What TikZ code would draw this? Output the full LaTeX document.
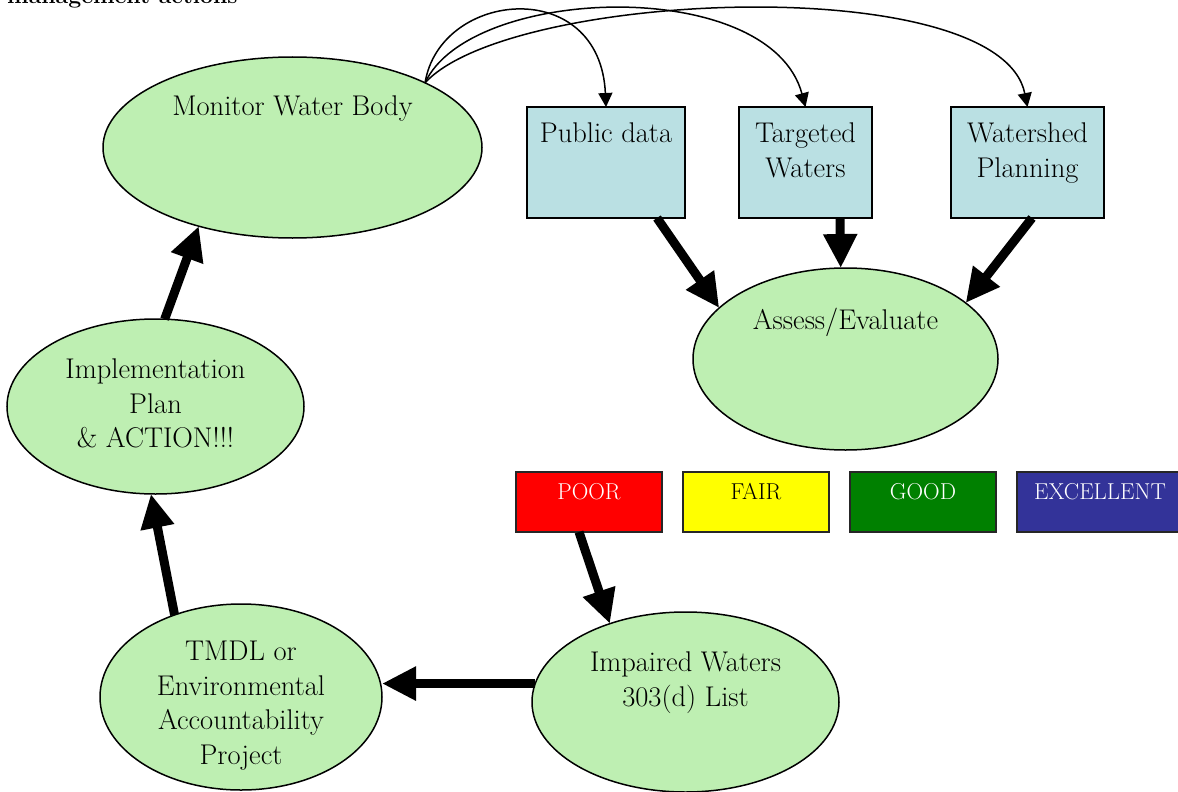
\documentclass[tikz,border=0pt]{standalone}
\usetikzlibrary{shapes.geometric,arrows.meta,calc}
\definecolor{ellgreen}{RGB}{190,239,178}
\definecolor{boxblue}{RGB}{186,224,227}
\definecolor{poorred}{RGB}{255,0,0}
\definecolor{fairyellow}{RGB}{255,255,0}
\definecolor{goodgreen}{RGB}{0,128,0}
\definecolor{excblue}{RGB}{51,51,153}
\begin{document}
\begin{tikzpicture}[x=1pt,y=-1pt,
  ell/.style={ellipse,draw=black,line width=1.5pt,fill=ellgreen,inner sep=0pt,outer sep=0pt},
  bluebox/.style={rectangle,draw=black,line width=2pt,fill=boxblue,inner sep=0pt,outer sep=0pt,minimum height=111pt},
  ratebox/.style={rectangle,draw=black!85,line width=1.8pt,inner sep=0pt,outer sep=0pt,minimum width=146pt,minimum height=60pt},
  lbl/.style={font=\fontsize{28.5}{34.5}\selectfont,align=center,inner sep=0pt,anchor=north},
  ratelbl/.style={font=\fontsize{23}{26}\selectfont,inner sep=0pt,anchor=base},
  bigarrow/.style={line width=9pt,-{Triangle[length=34pt,width=32pt]}},
  smallarrow/.style={line width=1.5pt,-{Triangle[length=14pt,width=14pt]}},
]
\useasboundingbox (0,0) rectangle (1178,792);
\clip (0,0) rectangle (1178,792);

% title (cut off at the top, as in the reference)
\node[font=\fontsize{23}{27}\selectfont\bfseries,anchor=base west,inner sep=0pt] (title) at (7,3.5) {management actions};

% ellipses
\node[ell,minimum width=379pt,minimum height=181pt] (mon) at (292.5,147.5) {};
\node[ell,minimum width=305pt,minimum height=182pt] (assess) at (845.5,359) {};
\node[ell,minimum width=297pt,minimum height=175pt] (impl) at (155.5,406.5) {};
\node[ell,minimum width=282pt,minimum height=186pt] (tmdl) at (241,697) {};
\node[ell,minimum width=307pt,minimum height=180pt] (imp) at (685.5,702) {};

% blue boxes
\node[bluebox,minimum width=158pt] (pub) at (606,162.5) {};
\node[bluebox,minimum width=133pt] (tgt) at (805.5,162.5) {};
\node[bluebox,minimum width=153pt] (ws) at (1027.5,162.5) {};

% rating boxes
\node[ratebox,fill=poorred] (poor) at (589,502) {};
\node[ratebox,fill=fairyellow] (fair) at (756,502) {};
\node[ratebox,fill=goodgreen] (good) at (923,502) {};
\node[ratebox,fill=excblue,minimum width=166pt] (exc) at (1100,502) {};

% labels
\node[lbl] (monT) at (292.5,96) {Monitor Water Body};
\node[lbl] (pubT) at (606,123) {Public data};
\node[lbl] (tgtT) at (805.5,123) {Targeted\\Waters};
\node[lbl] (wsT) at (1027.5,123) {Watershed\\Planning};
\node[lbl] (assT) at (845.5,308) {Assess/Evaluate};
\node[lbl] (implT) at (155.5,359) {Implementation\\Plan\\\& ACTION!!!};
\node[lbl] (tmdlT) at (241,641) {TMDL or\\Environmental\\Accountability\\Project};
\node[lbl] (impT) at (685.5,652) {Impaired Waters\\303(d) List};

\node[ratelbl,text=white] (poorT) at (589,499) {POOR};
\node[ratelbl,text=black] (fairT) at (756,499) {FAIR};
\node[ratelbl,text=white] (goodT) at (923,499) {GOOD};
\node[ratelbl,text=white] (excT) at (1100,499) {EXCELLENT};

% thin curved arrows
\draw[smallarrow] (mon.26) .. controls (440,-10) and (600,-25) .. (pub.north);
\draw[smallarrow] (mon.26) .. controls (470,-15) and (770,-25) .. (tgt.north);
\draw[smallarrow] (mon.26) .. controls (510,-10) and (1000,-30) .. (ws.north);

% thick arrows
\draw[bigarrow] ($(pub.south)+(51,0)$) -- (assess.158);
\draw[bigarrow] ($(tgt.south)+(34.5,0)$) -- (assess.93);
\draw[bigarrow] ($(ws.south)+(4.5,0)$) -- (assess.25);
\draw[bigarrow] ($(poor.south)+(-10,0)$) -- (imp.134);
\draw[bigarrow] (imp.173) -- (tmdl.east |- imp.173);
\draw[bigarrow] (tmdl.129) -- (impl.267);
\draw[bigarrow] (impl.84) -- (mon.220);
\end{tikzpicture}
\end{document}
